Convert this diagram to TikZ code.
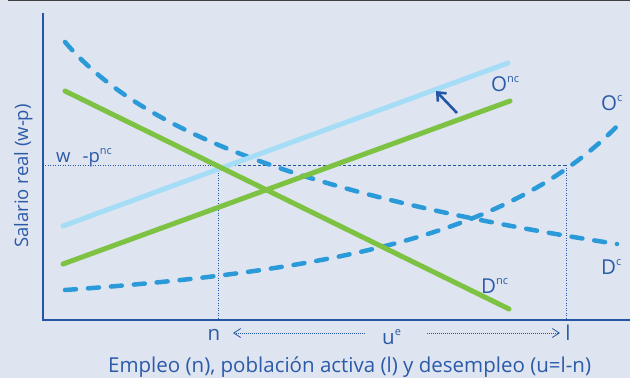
\documentclass[tikz,border=0pt]{standalone}
\usepackage{fontspec}
\setmainfont{Open Sans}
\usetikzlibrary{arrows.meta}
\definecolor{bg}{HTML}{DFE4F1}
\definecolor{axisblue}{HTML}{2456A6}
\definecolor{txtblue}{HTML}{2B5BA8}
\definecolor{lightblue}{HTML}{A6DDF6}
\definecolor{grn}{HTML}{7DC242}
\definecolor{dashblue}{HTML}{2B9AD8}
\newcommand{\supx}[1]{\raisebox{0.42em}{\fontsize{11}{12}\selectfont #1}}
\begin{document}
\begin{tikzpicture}[x=1pt,y=-1pt,
  axisline/.style={draw=axisblue,line width=2.2pt},
  solidcurve/.style={line width=5pt,line cap=round},
  dashcurve/.style={draw=dashblue,line width=4.5pt,line cap=round,dash pattern=on 11pt off 12pt},
  guide/.style={draw=axisblue,line width=0.8pt,dash pattern=on 1pt off 1.5pt},
  lbl/.style={text=txtblue,font=\fontsize{20.5}{22}\selectfont,inner sep=0pt},
  small/.style={text=txtblue,font=\fontsize{18.5}{20}\selectfont,inner sep=0pt}]
\fill[bg] (0,0) rectangle (630,378);
\useasboundingbox (0,0) rectangle (630,378);
\draw[black!75,line width=1pt] (8,0.5) -- (630,0.5);
% guides
\coordinate (wl) at (45,165);
\coordinate (wm) at (218,165);
\coordinate (wr) at (566,165);
\coordinate (nb) at (218,319);
\coordinate (lb) at (566,319);
\draw[guide] (wl) -- (wm);
\draw[draw=axisblue,line width=0.7pt,dash pattern=on 3pt off 2pt] (wm) -- (wr);
\draw[guide] (wm) -- (nb);
\draw[guide] (wr) -- (lb);
% curves
\draw[dashcurve] (65,290) .. controls (350,270) and (520,230) .. (624,119);
\draw[dashcurve] (65,42) .. controls (140,130) and (300,195) .. (617,244);
\draw[solidcurve,draw=lightblue] (63,226) -- (508,63);
\draw[solidcurve,draw=grn] (63,264) -- (510,101);
\draw[solidcurve,draw=grn] (65,91) -- (509,309);
% shift arrow
\coordinate (as) at (457,113);
\coordinate (ae) at (436,91);
\draw[draw=axisblue,line width=2.6pt,-{Straight Barb[length=7pt,width=12pt]}] (as) -- (ae);
% axes
\coordinate (org) at (43,320);
\draw[axisline] (43,13) -- (org) -- (630,320);
% labels
\node[small,anchor=base west] (wp) at (56,162) {w\hspace{0.65em}-p\supx{nc}};
\node[lbl,anchor=base west] (onc) at (491,91) {O\supx{nc}};
\node[lbl,anchor=base west] (oc) at (601,110) {O\supx{c}};
\node[lbl,anchor=base west] (dc) at (601,274) {D\supx{c}};
\node[lbl,anchor=base west] (dnc) at (481,293) {D\supx{nc}};
\node[lbl,anchor=base] (n) at (214,340) {n};
\node[lbl,anchor=base] (l) at (568,340) {l};
\node[lbl,anchor=base west] (ue) at (382,344) {u\supx{e}};
\coordinate (la) at (233,333);
\coordinate (lb2) at (365,333);
\coordinate (ra) at (427,333);
\coordinate (rb) at (560,333);
\draw[draw=axisblue,line width=0.8pt,dash pattern=on 1pt off 1pt,-{Straight Barb[length=7pt,width=9pt]}] (lb2) -- (la);
\draw[draw=axisblue,line width=0.8pt,dash pattern=on 1pt off 1pt,-{Straight Barb[length=7pt,width=9pt]}] (ra) -- (rb);
\node[lbl,anchor=base west] (xl) at (108,372.5) {Empleo (n), población activa (l) y desempleo (u=l-n)};
\node[small,rotate=90,anchor=base] (yl) at (28,176) {Salario real (w-p)};
\end{tikzpicture}
\end{document}
